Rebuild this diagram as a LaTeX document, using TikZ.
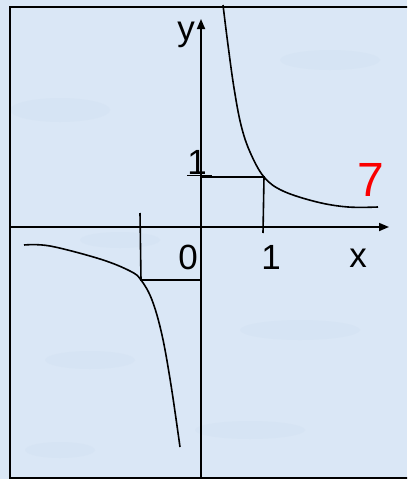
\documentclass[tikz,border=0pt]{standalone}
\usepackage{fontspec}
\setmainfont{Liberation Sans}
\usetikzlibrary{arrows.meta,positioning}
\definecolor{paperBlue}{RGB}{218,231,246}
\definecolor{cloudBlue}{RGB}{200,216,235}
\definecolor{markRed}{RGB}{250,0,0}

\begin{document}
\begin{tikzpicture}[x=1pt,y=-1pt,
  axis/.style={line width=1.7pt,-{Triangle[length=10pt,width=8pt]}},
  curve/.style={line width=1.6pt},
  guide/.style={line width=1.6pt},
  lbl/.style={font=\fontsize{35}{35}\selectfont,inner sep=0pt}]
  \useasboundingbox (0,0) rectangle (407,479);
  \fill[paperBlue] (0,0) rectangle (407,479);
  % soft clouds of the slide background
  \foreach \cx/\cy/\rx/\ry in {60/110/50/12,120/240/40/8,300/330/60/10,90/360/45/9,330/60/50/10,250/430/55/9,60/450/35/8}
    \fill[cloudBlue,opacity=0.18] (\cx,\cy) ellipse ({\rx} and {\ry});
  \clip (0,0) rectangle (407,479);
  \draw[line width=2.2pt] (10,7) rectangle (420,478);
  % axes
  \coordinate (xs) at (10,227);
  \coordinate (xe) at (389,227);
  \coordinate (ys) at (201,478);
  \coordinate (ye) at (201,19);
  \draw[axis] (xs) -- (xe);
  \draw[axis] (ys) -- (ye);
  \node[lbl] (ylab) at (186,35) {y};
  \node[lbl] (xlab) at (358,258) {x};
  \node[lbl] (zero) at (188,257) {0};
  \node[lbl] (xone) at (271,257) {1};
  \node[lbl] (yone) at (197,162) {1};
  \node[lbl,font=\fontsize{48}{48}\selectfont,text=markRed] (seven) at (371,180) {7};
  % unit square in the first quarter
  \coordinate (pA) at (264,177);
  \coordinate (pAx) at (263,233);
  \coordinate (pAy) at (201,177);
  \draw[guide] (187,175.5) -- (212,175.5);
  \draw[guide] (pAy) -- (pA) -- (pAx);
  % unit square in the third quarter
  \coordinate (pB) at (141,280);
  \coordinate (pBx) at (140,213);
  \coordinate (pBy) at (201,280);
  \draw[guide] (pBx) -- (pB) -- (pBy);
  % branches
  \draw[curve] plot[smooth,tension=0.6] coordinates {(223,5) (228,45) (234,88) (241,125) (250,152) (pA) (283,191) (317,202) (348,207) (378,207)};
  \draw[curve] plot[smooth,tension=0.6] coordinates {(24,245) (50,246) (100,259) (130,271) (pB) (152,300) (162,335) (171,385) (180,447)};
\end{tikzpicture}
\end{document}
